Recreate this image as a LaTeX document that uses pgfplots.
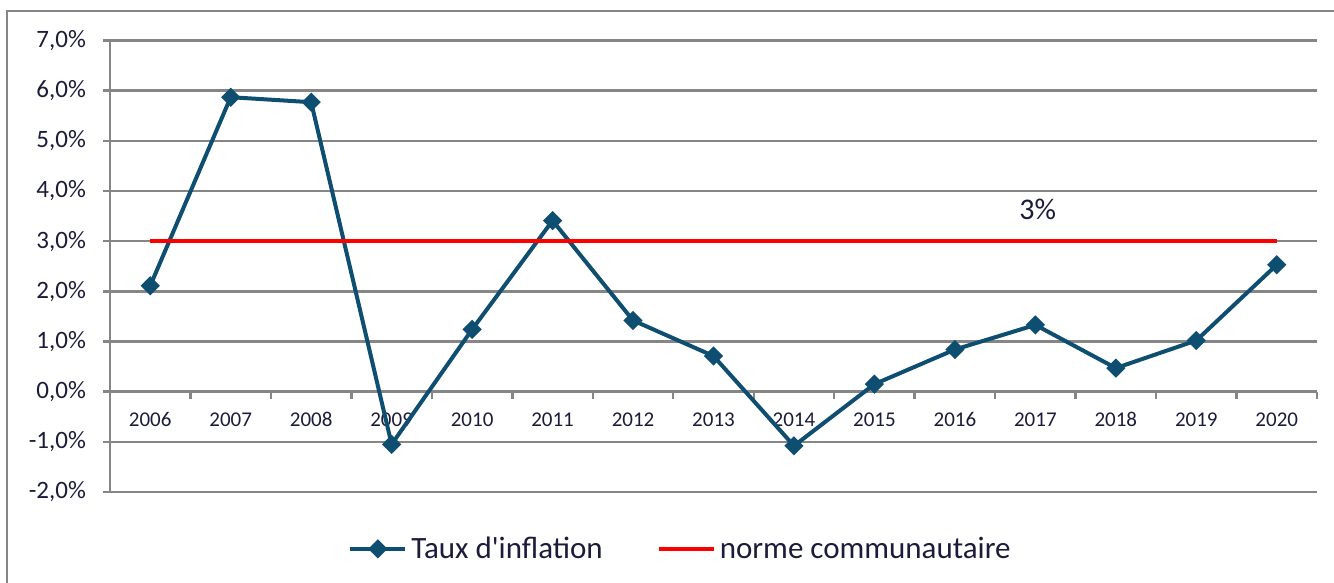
\documentclass[border=0pt]{standalone}
\usepackage{pgfplots}
\pgfplotsset{compat=1.18}
\usepackage{fontspec}
\setmainfont{Carlito}
\definecolor{infl}{RGB}{14,78,112}
\definecolor{gridg}{RGB}{134,134,134}
\definecolor{txt}{RGB}{28,28,58}
\begin{document}
\begin{tikzpicture}
\useasboundingbox (0pt,0pt) rectangle (667pt,291.5pt);
\draw[gridg, line width=1pt] (3.5pt,-5pt) -- (3.5pt,286pt) -- (672pt,286pt);
\begin{axis}[
  at={(55pt,45.5pt)}, anchor=south west, scale only axis,
  width=603.5pt, height=225.75pt,
  xmin=-0.5, xmax=14.5, ymin=-2, ymax=7,
  axis y line*=left, axis x line*=middle,
  hide obscured x ticks=false,
  x axis line style={-, draw=gridg, line width=1.2pt},
  y axis line style={-, draw=gridg, line width=1.2pt},
  xtick={-0.5,0.5,...,14.5},
  x tick label as interval,
  xticklabels={2006,2007,2008,2009,2010,2011,2012,2013,2014,2015,2016,2017,2018,2019,2020},
  ytick={-2,-1,0,1,2,3,4,5,6,7},
  yticklabels={{-2,0\%},{-1,0\%},{0,0\%},{1,0\%},{2,0\%},{3,0\%},{4,0\%},{5,0\%},{6,0\%},{7,0\%}},
  tick align=outside,
  major tick length=3.5pt,
  tick style={draw=gridg, line width=1.2pt},
  ymajorgrids, grid style={gridg, line width=1.2pt},
  yticklabel style={font=\fontsize{12.5}{15}\selectfont, text=txt, xshift=-5pt},
  xticklabel style={font=\fontsize{10.5}{12}\selectfont, text=txt, text height=7.5pt, text depth=0pt, yshift=-3pt},
  legend style={at={(0.4735,-0.126)}, anchor=center, draw=none, fill=none,
    legend columns=2, font=\fontsize{15.5}{18}\selectfont, text=txt,
    /tikz/every even column/.append style={column sep=25pt}},
  legend image code/.code={\draw[mark repeat=2,mark phase=2] plot coordinates {(0pt,0pt) (13.75pt,0pt) (27.5pt,0pt)};},
  clip=false,
]
\addplot[infl, line width=2pt, mark=square*, mark size=2.4pt, mark options={solid, fill=infl, rotate=45}] coordinates {
(0,2.11) (1,5.87) (2,5.77) (3,-1.05) (4,1.24) (5,3.41) (6,1.42) (7,0.71) (8,-1.08) (9,0.15) (10,0.84) (11,1.33) (12,0.47) (13,1.02) (14,2.53)};
\addlegendentry{Taux d\textquotesingle inflation}
\addplot[red, line width=2pt] coordinates {(0,3) (14,3)};
\addlegendentry{norme communautaire}
\node[font=\fontsize{15}{18}\selectfont, text=txt] at (axis cs:11.03,3.63) {3\%};
\end{axis}
\end{tikzpicture}
\end{document}
